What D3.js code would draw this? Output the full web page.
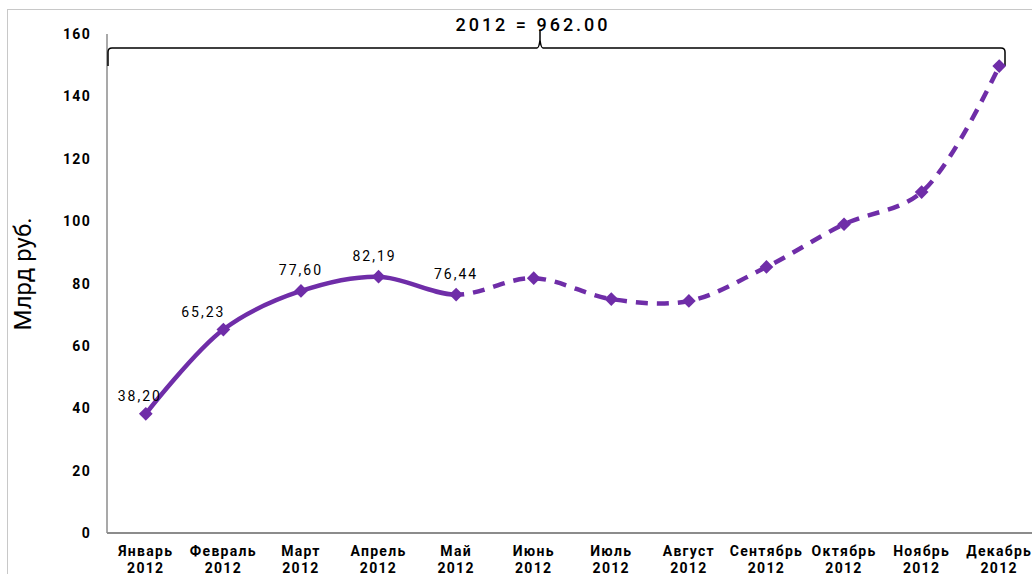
<!DOCTYPE html>
<html>
<head>
<meta charset="utf-8">
<script src="https://cdn.jsdelivr.net/npm/d3@7"></script>
<style>
  body { margin: 0; background: #fff; }
  .tick-label { font-family: Roboto, sans-serif; font-weight: bold; font-size: 14px; letter-spacing: 1.3px; fill: #000; }
  .value-label { font-family: Roboto, sans-serif; font-size: 14px; letter-spacing: 2px; fill: #000; }
</style>
</head>
<body>
<div id="chart"></div>
<script>
// months shown on the x axis
const months = ["Январь", "Февраль", "Март", "Апрель", "Май", "Июнь",
                "Июль", "Август", "Сентябрь", "Октябрь", "Ноябрь", "Декабрь"];
const year = "2012";
// monthly values, bn RUB (first five are actual, the rest forecast)
const values = [38.20, 65.23, 77.60, 82.19, 76.44, 81.7, 75.0, 74.4, 85.3, 99.0, 109.3, 149.7];
const actualCount = 5;
const yTicks = [0, 20, 40, 60, 80, 100, 120, 140, 160];
const totalLabel = "2012 = 962.00";
const yTitle = "Млрд руб.";

const W = 1032, H = 574;
const plotLeft = 107, plotRight = 1038, plotTop = 34, plotBottom = 533;

const svg = d3.select("#chart").append("svg")
  .attr("width", W).attr("height", H);

// outer frame
svg.append("rect")
  .attr("x", 7.5).attr("y", 9.5).attr("width", 1200).attr("height", 800)
  .attr("fill", "none").attr("stroke", "#c8c8c8").attr("stroke-width", 1);

const x = d3.scaleBand().domain(months).range([plotLeft, plotRight]);
const y = d3.scaleLinear().domain([0, 160]).range([plotBottom, plotTop]);
const px = m => x(m) + x.bandwidth() / 2;

// axes lines
svg.append("line").attr("x1", plotLeft).attr("x2", plotLeft).attr("y1", plotTop).attr("y2", plotBottom)
  .attr("stroke", "#8c8c8c").attr("stroke-width", 1.5);
svg.append("line").attr("x1", plotLeft).attr("x2", W).attr("y1", plotBottom).attr("y2", plotBottom)
  .attr("stroke", "#8c8c8c").attr("stroke-width", 2);

// y tick labels
svg.append("g").selectAll("text").data(yTicks).enter().append("text")
  .attr("class", "tick-label")
  .attr("x", 91).attr("y", d => y(d) + 5)
  .attr("text-anchor", "end")
  .text(d => d);

// x tick labels (two lines)
const xl = svg.append("g").selectAll("text").data(months).enter().append("text")
  .attr("class", "tick-label")
  .attr("text-anchor", "middle")
  .attr("x", d => px(d));
xl.append("tspan").attr("x", d => px(d)).attr("y", 556).text(d => d);
xl.append("tspan").attr("x", d => px(d)).attr("y", 573).text(year);

// y title
svg.append("text")
  .attr("transform", `translate(31, 274) rotate(-90)`)
  .attr("text-anchor", "middle")
  .attr("font-family", "Roboto, sans-serif")
  .attr("font-size", 24)
  .attr("fill", "#000")
  .text(yTitle);

// bracket over the whole year
const bx0 = 108, bx1 = 1005, bmid = 540, by = 48;
svg.append("path")
  .attr("d", `M${bx0},66 L${bx0},52 Q${bx0},${by} ${bx0 + 4},${by} L${bmid - 3},${by} Q${bmid - 1},${by} ${bmid},${by - 8} L${bmid},${by - 18} M${bmid},${by - 8} Q${bmid + 1},${by} ${bmid + 3},${by} L${bx1 - 4},${by} Q${bx1},${by} ${bx1},${by + 4} L${bx1},66`)
  .attr("fill", "none").attr("stroke", "#000").attr("stroke-width", 1.5);
svg.append("text")
  .attr("x", 533).attr("y", 31)
  .attr("text-anchor", "middle")
  .attr("font-family", "Roboto, sans-serif")
  .attr("font-weight", 500)
  .attr("font-size", 18)
  .attr("letter-spacing", "3px")
  .attr("fill", "#000")
  .text(totalLabel);

// series line
const pts = months.map((m, i) => [px(m), y(values[i])]);
const line = d3.line().curve(d3.curveCatmullRom.alpha(0.5));
const splitX = pts[actualCount - 1][0];
const purple = "#6f2da8";

const defs = svg.append("defs");
defs.append("clipPath").attr("id", "clipSolid")
  .append("rect").attr("x", 0).attr("y", 0).attr("width", splitX).attr("height", H);
defs.append("clipPath").attr("id", "clipDash")
  .append("rect").attr("x", splitX).attr("y", 0).attr("width", W).attr("height", H);

svg.append("path").attr("d", line(pts))
  .attr("fill", "none").attr("stroke", purple).attr("stroke-width", 4.5)
  .attr("clip-path", "url(#clipSolid)");
svg.append("path").attr("d", line(pts))
  .attr("fill", "none").attr("stroke", purple).attr("stroke-width", 4.5)
  .attr("stroke-dasharray", "12,9")
  .attr("clip-path", "url(#clipDash)");

// diamond markers
svg.append("g").selectAll("path").data(pts).enter().append("path")
  .attr("transform", d => `translate(${d[0]},${d[1]})`)
  .attr("d", d3.symbol().type(d3.symbolDiamond2).size(120))
  .attr("fill", purple);

// value labels for actual months
const fmt = v => v.toFixed(2).replace(".", ",");
const labelShift = [-6, -20, 0, -4, 0];
svg.append("g").selectAll("text").data(values.slice(0, actualCount)).enter().append("text")
  .attr("class", "value-label")
  .attr("text-anchor", "middle")
  .attr("x", (d, i) => pts[i][0] + labelShift[i])
  .attr("y", (d, i) => pts[i][1] - (i < 2 ? 13 : 16))
  .text(fmt);
</script>
</body>
</html>
